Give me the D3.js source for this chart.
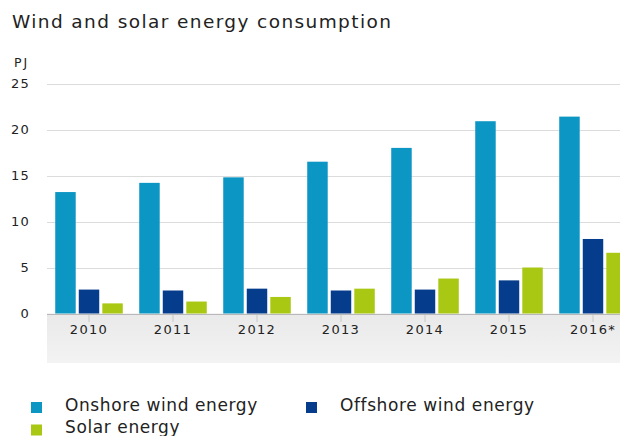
<!DOCTYPE html>
<html>
<head>
<meta charset="utf-8">
<script src="https://cdn.jsdelivr.net/npm/d3@7/dist/d3.min.js"></script>
<style>
  html, body { margin: 0; padding: 0; background: #fff; }
  svg { display: block; font-family: "DejaVu Sans", Verdana, sans-serif; }
</style>
</head>
<body>
<svg id="chart" width="620" height="436"></svg>
<script>
// Wind and solar energy consumption (PJ)
const years = ["2010", "2011", "2012", "2013", "2014", "2015", "2016*"];
const onshore  = [13.2, 14.2, 14.8, 16.5, 18.0, 20.9, 21.4];
const offshore = [2.6, 2.5, 2.7, 2.5, 2.6, 3.6, 8.1];
const solar    = [1.1, 1.3, 1.8, 2.7, 3.8, 5.0, 6.6];
const seriesNames = ["Onshore wind energy", "Offshore wind energy", "Solar energy"];
const seriesColors = ["#0b96c3", "#053c8b", "#a9c814"];
const yTicks = [0, 5, 10, 15, 20, 25];

const series = [onshore, offshore, solar];
const svg = d3.select("#chart");

const left = 47, step = 84;
const x0 = d3.scaleBand().domain(years).range([left, left + step * years.length]).padding(0);
const x1 = d3.scaleBand().domain(d3.range(series.length)).range([0, x0.bandwidth()])
  .paddingInner(0.13).paddingOuter(0.35);
const y = d3.scaleLinear().domain([0, 25]).range([313.5, 83.5]);

// Title
svg.append("text").attr("x", 12).attr("y", 28)
  .attr("font-size", 18.5).attr("letter-spacing", 1.4).attr("fill", "#222")
  .text("Wind and solar energy consumption");

// Unit label
svg.append("text").attr("x", 14).attr("y", 67)
  .attr("font-size", 12.5).attr("letter-spacing", 2).attr("fill", "#222").text("PJ");

// Shaded band under the category axis
const defs = svg.append("defs");
const grad = defs.append("linearGradient").attr("id", "band").attr("x1", 0).attr("y1", 0).attr("x2", 0).attr("y2", 1);
grad.append("stop").attr("offset", "0%").attr("stop-color", "#e9e9e9");
grad.append("stop").attr("offset", "100%").attr("stop-color", "#f3f3f3");
svg.append("rect").attr("x", left).attr("y", y(0)).attr("width", 620 - left)
  .attr("height", 363 - y(0)).attr("fill", "url(#band)");

// Gridlines
svg.append("g").selectAll("line").data(yTicks.filter(d => d > 0)).join("line")
  .attr("x1", left).attr("x2", 620)
  .attr("y1", d => Math.round(y(d)) + 0.5).attr("y2", d => Math.round(y(d)) + 0.5)
  .attr("stroke", "#dcdcdc").attr("stroke-width", 1);

// Y axis labels
const yAxis = svg.append("g").attr("transform", "translate(30,0)")
  .call(d3.axisLeft(y).tickValues(yTicks).tickSize(0).tickPadding(0));
yAxis.select(".domain").remove();
yAxis.selectAll("text").attr("font-size", 13).attr("letter-spacing", 1.2).attr("fill", "#222")
  .attr("font-family", "DejaVu Sans, Verdana, sans-serif");

// Bars
const groups = svg.append("g").selectAll("g").data(years).join("g")
  .attr("transform", d => `translate(${x0(d)},0)`);
groups.selectAll("rect").data((d, i) => series.map((s, k) => ({ k, v: s[i] }))).join("rect")
  .attr("x", d => x1(d.k)).attr("width", x1.bandwidth())
  .attr("y", d => y(d.v)).attr("height", d => y(0) - y(d.v))
  .attr("fill", d => seriesColors[d.k]);

// Category axis
const xAxis = svg.append("g").attr("transform", `translate(0,${Math.round(y(0))})`)
  .call(d3.axisBottom(x0).tickSize(8).tickPadding(3));
xAxis.select(".domain").remove();
xAxis.selectAll(".tick line").attr("stroke", "#c8c8c8");
xAxis.selectAll("text").attr("font-size", 13).attr("letter-spacing", 1.3).attr("fill", "#222")
  .attr("font-family", "DejaVu Sans, Verdana, sans-serif");
svg.append("line").attr("x1", left).attr("x2", 620)
  .attr("y1", Math.round(y(0)) + 0.5).attr("y2", Math.round(y(0)) + 0.5)
  .attr("stroke", "#b8b8b8");

// Legend
const legendPos = [[31, 410.5], [306, 410.5], [31, 433]];
const legend = svg.append("g").selectAll("g").data(seriesNames).join("g")
  .attr("transform", (d, i) => `translate(${legendPos[i][0]},${legendPos[i][1]})`);
legend.append("rect").attr("x", 0).attr("y", -8.5).attr("width", 11).attr("height", 11)
  .attr("fill", (d, i) => seriesColors[i]);
legend.append("text").attr("x", 34).attr("y", 0)
  .attr("font-size", 17).attr("letter-spacing", 0.6).attr("fill", "#222").text(d => d);
</script>
</body>
</html>
